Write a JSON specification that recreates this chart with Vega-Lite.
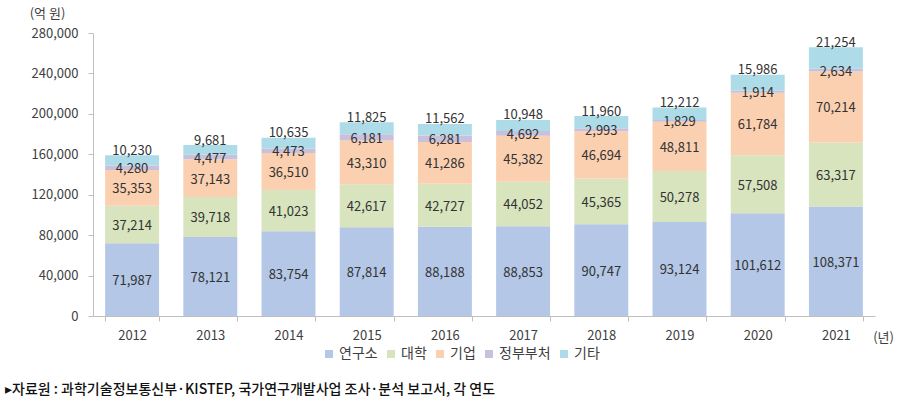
{
  "$schema": "https://vega.github.io/schema/vega-lite/v6.json",
  "width": 782,
  "height": 283,
  "autosize": "none",
  "padding": {"left": 93, "top": 33, "right": 30, "bottom": 95},
  "background": "white",
  "config": {"font": "Noto Sans CJK KR", "view": {"stroke": null}},
  "title": {
    "text": "▸자료원 : 과학기술정보통신부·KISTEP, 국가연구개발사업 조사·분석 보고서, 각 연도",
    "orient": "bottom",
    "anchor": "start",
    "frame": "group",
    "dx": -88,
    "offset": 22,
    "fontSize": 14,
    "fontWeight": 500,
    "color": "#111111"
  },
  "data": {
    "values": [
      {"year": "2012", "cat": "연구소", "k": 1, "value": 71987},
      {"year": "2012", "cat": "대학", "k": 2, "value": 37214},
      {"year": "2012", "cat": "기업", "k": 3, "value": 35353},
      {"year": "2012", "cat": "정부부처", "k": 4, "value": 4280},
      {"year": "2012", "cat": "기타", "k": 5, "value": 10230},
      {"year": "2013", "cat": "연구소", "k": 1, "value": 78121},
      {"year": "2013", "cat": "대학", "k": 2, "value": 39718},
      {"year": "2013", "cat": "기업", "k": 3, "value": 37143},
      {"year": "2013", "cat": "정부부처", "k": 4, "value": 4477},
      {"year": "2013", "cat": "기타", "k": 5, "value": 9681},
      {"year": "2014", "cat": "연구소", "k": 1, "value": 83754},
      {"year": "2014", "cat": "대학", "k": 2, "value": 41023},
      {"year": "2014", "cat": "기업", "k": 3, "value": 36510},
      {"year": "2014", "cat": "정부부처", "k": 4, "value": 4473},
      {"year": "2014", "cat": "기타", "k": 5, "value": 10635},
      {"year": "2015", "cat": "연구소", "k": 1, "value": 87814},
      {"year": "2015", "cat": "대학", "k": 2, "value": 42617},
      {"year": "2015", "cat": "기업", "k": 3, "value": 43310},
      {"year": "2015", "cat": "정부부처", "k": 4, "value": 6181},
      {"year": "2015", "cat": "기타", "k": 5, "value": 11825},
      {"year": "2016", "cat": "연구소", "k": 1, "value": 88188},
      {"year": "2016", "cat": "대학", "k": 2, "value": 42727},
      {"year": "2016", "cat": "기업", "k": 3, "value": 41286},
      {"year": "2016", "cat": "정부부처", "k": 4, "value": 6281},
      {"year": "2016", "cat": "기타", "k": 5, "value": 11562},
      {"year": "2017", "cat": "연구소", "k": 1, "value": 88853},
      {"year": "2017", "cat": "대학", "k": 2, "value": 44052},
      {"year": "2017", "cat": "기업", "k": 3, "value": 45382},
      {"year": "2017", "cat": "정부부처", "k": 4, "value": 4692},
      {"year": "2017", "cat": "기타", "k": 5, "value": 10948},
      {"year": "2018", "cat": "연구소", "k": 1, "value": 90747},
      {"year": "2018", "cat": "대학", "k": 2, "value": 45365},
      {"year": "2018", "cat": "기업", "k": 3, "value": 46694},
      {"year": "2018", "cat": "정부부처", "k": 4, "value": 2993},
      {"year": "2018", "cat": "기타", "k": 5, "value": 11960},
      {"year": "2019", "cat": "연구소", "k": 1, "value": 93124},
      {"year": "2019", "cat": "대학", "k": 2, "value": 50278},
      {"year": "2019", "cat": "기업", "k": 3, "value": 48811},
      {"year": "2019", "cat": "정부부처", "k": 4, "value": 1829},
      {"year": "2019", "cat": "기타", "k": 5, "value": 12212},
      {"year": "2020", "cat": "연구소", "k": 1, "value": 101612},
      {"year": "2020", "cat": "대학", "k": 2, "value": 57508},
      {"year": "2020", "cat": "기업", "k": 3, "value": 61784},
      {"year": "2020", "cat": "정부부처", "k": 4, "value": 1914},
      {"year": "2020", "cat": "기타", "k": 5, "value": 15986},
      {"year": "2021", "cat": "연구소", "k": 1, "value": 108371},
      {"year": "2021", "cat": "대학", "k": 2, "value": 63317},
      {"year": "2021", "cat": "기업", "k": 3, "value": 70214},
      {"year": "2021", "cat": "정부부처", "k": 4, "value": 2634},
      {"year": "2021", "cat": "기타", "k": 5, "value": 21254}
    ]
  },
  "encoding": {
    "x": {
      "field": "year",
      "type": "ordinal",
      "scale": {"paddingInner": 0.31, "paddingOuter": 0.155},
      "axis": {
        "labelAngle": 0,
        "labelFontSize": 13,
        "labelColor": "#404040",
        "labelPadding": 8,
        "tickBand": "extent",
        "tickSize": 5,
        "tickColor": "#bfbfbf",
        "domainColor": "#bfbfbf",
        "title": "(년)",
        "titleX": 790,
        "titleY": 21,
        "titleAlign": "center",
        "titleBaseline": "middle",
        "titleFontSize": 13,
        "titleFontWeight": "normal",
        "titleColor": "#404040"
      }
    },
    "y": {
      "field": "value",
      "type": "quantitative",
      "stack": "zero",
      "scale": {"domain": [0, 280000]},
      "axis": {
        "values": [0, 40000, 80000, 120000, 160000, 200000, 240000, 280000],
        "format": ",d",
        "grid": false,
        "labelFontSize": 13,
        "labelColor": "#404040",
        "labelPadding": 10,
        "tickSize": 5,
        "tickColor": "#bfbfbf",
        "domainColor": "#bfbfbf",
        "title": "(억 원)",
        "titleAngle": 0,
        "titleX": -46,
        "titleY": -20,
        "titleAlign": "center",
        "titleBaseline": "middle",
        "titleFontSize": 13,
        "titleFontWeight": "normal",
        "titleColor": "#404040"
      }
    },
    "order": {"field": "k", "type": "quantitative", "sort": "ascending"},
    "color": {
      "field": "cat",
      "type": "nominal",
      "sort": ["연구소", "대학", "기업", "정부부처", "기타"],
      "scale": {
        "domain": ["연구소", "대학", "기업", "정부부처", "기타"],
        "range": ["#B4C7E7", "#D7E4BD", "#FBD0B0", "#C9C1DC", "#ADDCE8"]
      },
      "legend": {
        "orient": "none",
        "legendX": 229,
        "legendY": 314,
        "direction": "horizontal",
        "title": null,
        "symbolType": "square",
        "symbolSize": 64,
        "symbolStrokeWidth": 0,
        "labelFontSize": 14,
        "labelColor": "#404040",
        "columnPadding": 6,
        "labelOffset": 3
      }
    }
  },
  "layer": [
    {"mark": {"type": "bar"}},
    {
      "mark": {"type": "text", "baseline": "middle", "dy": 1.5, "fontSize": 13},
      "encoding": {
        "y": {"field": "value", "type": "quantitative", "stack": "zero", "bandPosition": 0.5},
        "fill": {"value": "#333333"},
        "text": {
          "condition": {"test": "datum.cat !== '기타'", "field": "value", "type": "quantitative", "format": ","},
          "value": ""
        }
      }
    },
    {
      "mark": {"type": "text", "baseline": "middle", "dy": -4.5, "fontSize": 13},
      "encoding": {
        "fill": {"value": "#333333"},
        "text": {
          "condition": {"test": "datum.cat === '기타'", "field": "value", "type": "quantitative", "format": ","},
          "value": ""
        }
      }
    }
  ]
}
